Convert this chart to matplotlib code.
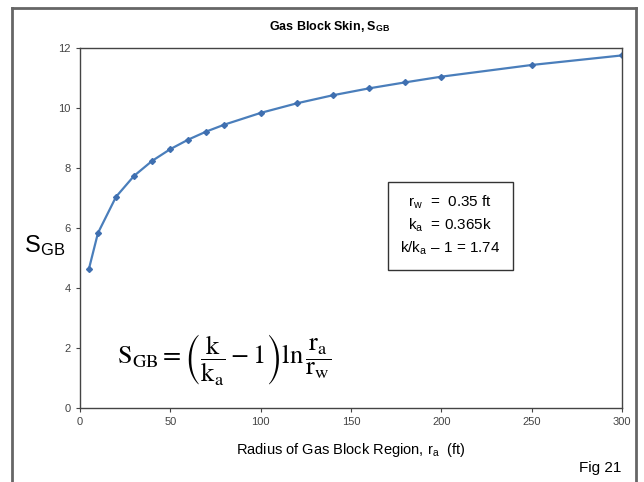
import matplotlib
matplotlib.use("Agg")
import matplotlib.pyplot as plt
from matplotlib.lines import Line2D

# radius of gas block region (ft) and gas block skin
ra = [5, 10, 20, 30, 40, 50, 60, 70, 80, 100, 120, 140, 160, 180, 200, 250, 300]
sgb = [4.63, 5.83, 7.04, 7.74, 8.24, 8.63, 8.95, 9.22, 9.45, 9.84, 10.16, 10.43,
       10.66, 10.86, 11.05, 11.44, 11.76]
xticks = [0, 50, 100, 150, 200, 250, 300]
yticks = [0, 2, 4, 6, 8, 10, 12]

plt.rcParams['font.family'] = ['Liberation Sans', 'DejaVu Sans']
plt.rcParams['mathtext.fontset'] = 'stix'

fig = plt.figure(figsize=(6.44, 4.82), dpi=100)
ax = fig.add_axes([0.124, 0.154, 0.842, 0.746])

ax.plot(ra, sgb, '-', color='#4a7ebb', linewidth=1.6, marker='D', markersize=3,
        markerfacecolor='#3f6fb0', markeredgecolor='#3f6fb0')
ax.set_xlim(0, 300)
ax.set_ylim(0, 12)
ax.set_xticks(xticks)
ax.set_yticks(yticks)
ax.tick_params(axis='both', labelsize=8, colors='#444444', length=3, direction='out')
for s in ['top', 'bottom', 'left', 'right']:
    ax.spines[s].set_color('#444444')
    ax.spines[s].set_linewidth(1.0)

ax.set_xlabel(r'Radius of Gas Block Region, r$_\mathregular{a}$  (ft)', fontsize=10.5, labelpad=10)
fig.text(0.07, 0.49, r'S$_\mathregular{GB}$', fontsize=17, ha='center', va='center')
fig.text(0.512, 0.944, r'Gas Block Skin, S$_\mathregular{GB}$', fontsize=9, fontweight='bold',
         ha='center', va='center')
fig.text(0.965, 0.03, 'Fig 21', fontsize=11, ha='right', va='center')

ax.text(0.683, 0.506, 'r$_\\mathregular{w}$  =  0.35 ft\nk$_\\mathregular{a}$  = 0.365k\nk/k$_\\mathregular{a}$ \u2013 1 = 1.74',
        transform=ax.transAxes, fontsize=11, ha='center', va='center', linespacing=1.45,
        bbox=dict(boxstyle='square,pad=0.8', facecolor='white', edgecolor='#333333', linewidth=1.0))

ax.text(0.267, 0.135, r'$\mathrm{S_{GB}} = \left(\dfrac{\mathrm{k}}{\mathrm{k_a}} - 1\right) \mathrm{ln}\,\dfrac{\mathrm{r_a}}{\mathrm{r_w}}$',
        transform=ax.transAxes, fontsize=19, ha='center', va='center')

# outer frame of the figure
fc = '#666666'
fig.add_artist(Line2D([0.019, 0.019], [0.0, 0.983], transform=fig.transFigure, color=fc, lw=2))
fig.add_artist(Line2D([0.019, 0.988], [0.983, 0.983], transform=fig.transFigure, color=fc, lw=2))
fig.add_artist(Line2D([0.988, 0.988], [0.0, 0.983], transform=fig.transFigure, color=fc, lw=2))

fig.savefig('out.png', dpi=100)
